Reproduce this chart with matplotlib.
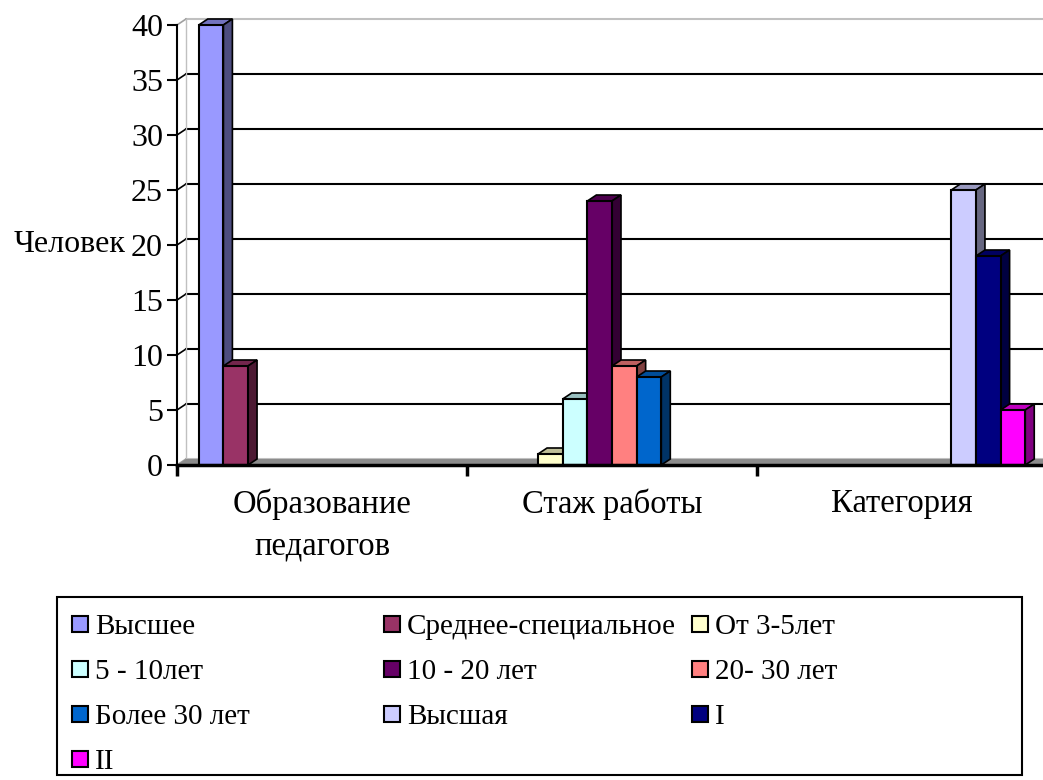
import numpy as np
import matplotlib.pyplot as plt
from matplotlib.patches import Polygon, Rectangle
from matplotlib.colors import to_rgb

plt.rcParams['font.family'] = ['Liberation Serif', 'DejaVu Serif']

# Data
categories = ["Образование\nпедагогов", "Стаж работы", "Категория"]
series = ["Высшее", "Среднее-специальное", "От 3-5лет", "5 - 10лет", "10 - 20 лет",
          "20- 30 лет", "Более 30 лет", "Высшая", "I", "II"]
colors = ["#9999FF", "#993366", "#FFFFCC", "#CCFFFF", "#660066",
          "#FF8080", "#0066CC", "#CCCCFF", "#000080", "#FF00FF"]
# values per series for each category
values = [
    [40, 0, 0],
    [9, 0, 0],
    [0, 1, 0],
    [0, 6, 0],
    [0, 24, 0],
    [0, 9, 0],
    [0, 8, 0],
    [0, 0, 25],
    [0, 0, 19],
    [0, 0, 5],
]
yticks = [0, 5, 10, 15, 20, 25, 30, 35, 40]

W, H = 1043, 780
fig = plt.figure(figsize=(W / 100, H / 100), dpi=100)
ax = fig.add_axes([177 / W, (H - 465) / H, 870 / W, 440 / H])
ax.set_xlim(0, 3)
ax.set_ylim(0, 40)

# depth of the pseudo-3D effect, in pixels -> data units
p0 = ax.transData.transform((0, 0))
ddx, ddy = ax.transData.inverted().transform(p0 + np.array([9, 6]))

# back wall gridlines and diagonal tick connectors
for v in yticks:
    edge = v in (0, 40)
    ax.plot([ddx, 3 + ddx], [v + ddy, v + ddy], color="#c0c0c0" if edge else "black",
            lw=1.5, clip_on=False, zorder=1)
    ax.plot([0, ddx], [v, v + ddy], color="#a0a0a0" if edge else "black",
            lw=1.2, clip_on=False, zorder=1)
ax.plot([ddx, ddx], [ddy, 40 + ddy], color="#c0c0c0", lw=1, clip_on=False, zorder=1)

# floor
ax.add_patch(Polygon([(0, 0), (3 + ddx, 0), (3 + ddx, ddy), (ddx, ddy)],
                     closed=True, facecolor="#8c8c8c", edgecolor="none",
                     clip_on=False, zorder=2))

bw = 0.085
start = 0.075
z = 3
for i, name in enumerate(series):
    base = np.array(to_rgb(colors[i]))
    for c in range(len(categories)):
        h = values[i][c]
        if h == 0:
            continue
        x = c + start + i * bw
        ax.bar(x, h, width=bw, align="edge", color=colors[i], edgecolor="black",
               linewidth=1.5, zorder=z + 0.2, clip_on=False)
        top = Polygon([(x, h), (x + bw, h), (x + bw + ddx, h + ddy), (x + ddx, h + ddy)],
                      closed=True, facecolor=base * 0.75, edgecolor="black", lw=1.2,
                      zorder=z, clip_on=False)
        side = Polygon([(x + bw, 0), (x + bw + ddx, ddy), (x + bw + ddx, h + ddy), (x + bw, h)],
                       closed=True, facecolor=base * 0.5, edgecolor="black", lw=1.2,
                       zorder=z, clip_on=False)
        ax.add_patch(top)
        ax.add_patch(side)
        z += 1

for s in ["top", "right"]:
    ax.spines[s].set_visible(False)
ax.spines["left"].set_linewidth(1.5)
ax.spines["bottom"].set_linewidth(2.5)
ax.spines["left"].set_zorder(50)
ax.spines["bottom"].set_zorder(50)

ax.set_yticks(yticks)
ax.tick_params(axis="y", direction="out", length=7, width=1.5, pad=3, labelsize=23)
ax.set_xticks([0, 1, 2, 3])
ax.set_xticklabels([])
ax.tick_params(axis="x", which="major", direction="out", length=8, width=2.5)
ax.set_xticks([0.5, 1.5, 2.5], minor=True)
ax.set_xticklabels(categories, minor=True, fontsize=23.5, linespacing=1.45)
ax.tick_params(axis="x", which="minor", length=0, pad=17)

ax.set_ylabel("Человек", rotation=0, fontsize=23, ha="right", va="center")
ax.yaxis.set_label_coords(-0.059, 0.5)

# legend box drawn manually (Excel-like evenly spaced columns)
fig.patches.append(Rectangle((57 / W, (H - 775) / H), 965 / W, 178 / H,
                             transform=fig.transFigure, facecolor="white",
                             edgecolor="black", lw=1.5))
col_x = [72, 384, 692]
for i, name in enumerate(series):
    r, c = divmod(i, 3)
    yc = 624 + r * 45
    fig.patches.append(Rectangle((col_x[c] / W, (H - yc - 8) / H), 16 / W, 16 / H,
                                 transform=fig.transFigure, facecolor=colors[i],
                                 edgecolor="black", lw=1.5))
    fig.text((col_x[c] + 23) / W, (H - yc) / H, name, fontsize=21,
             ha="left", va="center_baseline")

fig.savefig("out.png", dpi=100)
